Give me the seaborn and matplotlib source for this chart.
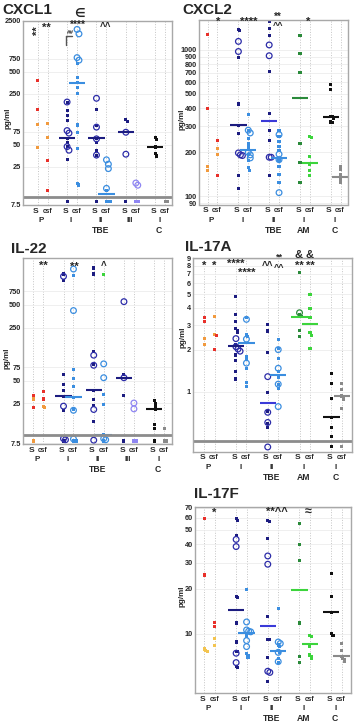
import numpy as np
import pandas as pd
import matplotlib
matplotlib.use("Agg")
import matplotlib.pyplot as plt
from matplotlib.lines import Line2D
from matplotlib.ticker import NullLocator
import seaborn as sns

sns.set_style("white")
plt.rcParams["font.family"] = ["Liberation Sans", "DejaVu Sans"]
plt.rcParams["font.weight"] = "bold"

W, H = 358, 722

PALETTE = {"red": "#e8302a", "orange": "#f19a3e", "yellow": "#f3c44f",
           "navy": "#1c1c80", "navyc": "#2c2ca8", "royal": "#3a3ad8",
           "blue": "#3b8ee0", "lav": "#8f86f2", "dkgreen": "#2a8a3a",
           "green": "#3cd43c", "black": "#111111", "grey": "#8a8a8a"}

A_GROUPS = ["P", "I", "II", "III", "C"]
B_GROUPS = ["P", "I", "II", "AM", "C"]
A_ROW2 = ["P", "I", "II", "III", "I"]
B_ROW2 = ["P", "I", "II", "I", "I"]

# ---------------- CXCL1 (pg/ml) ----------------
CXCL1_DOTS = [
    ("P S", "red", [383, 152]), ("P S", "orange", [95, 46]),
    ("P csf", "orange", [98, 62]), ("P csf", "red", [30, 11.7]),
    ("I S", "navy", [189, 146, 125, 107, 60, 54, 46.6, 31, 8.3]),
    ("I csf", "blue", [656, 420, 359, 301, 250, 93, 73, 44, 14.7, 14]),
    ("II S", "navy", [150, 91, 60, 54, 42, 36, 8.3]),
    ("II csf", "blue", [11.7, 8.3, 8.3, 8.3, 8.3]),
    ("III S", "navy", [112, 103, 8.3]),
    ("III csf", "lav", [8.3, 8.3, 8.3]),
    ("C S", "black", [62, 59, 46.5, 38, 35]),
    ("C csf", "grey", [8.3, 8.3, 8.3]),
]
CXCL1_CIRCLES = [
    ("I S", "navyc", [192, 78, 72, 47, 42]),
    ("I csf", "blue", [1900, 1650, 780, 720]),
    ("II S", "navyc", [216, 87, 60, 36]),
    ("II csf", "blue", [31, 27, 23.5, 12.6]),
    ("III S", "navyc", [74, 37]),
    ("III csf", "lav", [14.9, 13.9]),
]
CXCL1_MEDIANS = [("I S", "navy", 62), ("I csf", "blue", 352), ("II S", "navy", 62),
                 ("II csf", "blue", 10.5), ("III S", "navy", 74), ("C S", "black", 46.5)]

# ---------------- CXCL2 ----------------
CXCL2_DOTS = [
    ("P S", "red", [1280, 396]), ("P S", "orange", [160, 151]),
    ("P csf", "red", [239, 138]), ("P csf", "orange", [213, 192]),
    ("I S", "navy", [1376, 1360, 893, 427, 305, 269, 138, 113]),
    ("I csf", "blue", [362, 283, 249, 230, 219, 208, 192, 176, 157, 150]),
    ("II S", "navy", [1574, 1397, 1259, 716, 366, 280, 242, 138]),
    ("II csf", "blue", [283, 255, 236, 219, 206, 176, 161, 141, 124]),
    ("AM S", "dkgreen", [1250, 950, 700, 228, 170, 124]),
    ("AM csf", "green", [255, 251, 187, 165, 150, 138]),
    ("C S", "black", [582, 533, 353, 350, 343, 322, 318]),
    ("C csf", "grey", [160, 152, 141, 130, 124]),
]
CXCL2_CIRCLES = [
    ("I S", "navyc", [1143, 975, 198, 192, 190]),
    ("I csf", "blue", [283, 271, 200, 192, 183]),
    ("II S", "navyc", [1081, 912, 185, 185]),
    ("II csf", "blue", [264, 194, 178, 106]),
]
CXCL2_MEDIANS = [("I S", "navy", 309), ("I csf", "blue", 208), ("II S", "royal", 325),
                 ("II csf", "blue", 183), ("AM S", "dkgreen", 467), ("AM csf", "green", 170),
                 ("C S", "black", 348), ("C csf", "grey", 135)]

# ---------------- IL-22 ----------------
IL22_DOTS = [
    ("P S", "red", [31.7, 21.9]), ("P S", "orange", [28.6, 8.0]),
    ("P csf", "red", [36.3, 28.6]), ("P csf", "orange", [22.7, 22]),
    ("I S", "navy", [1268, 1055, 60, 44, 37, 31, 20, 8.0, 8.0]),
    ("I csf", "blue", [1210, 70, 53, 42, 29.6, 20.8, 8.0, 8.0, 8.0]),
    ("II S", "navy", [1520, 1266, 122, 82, 37, 28, 23.7, 14.6]),
    ("II csf", "green", [1240]), ("II csf", "blue", [32.6, 24.3, 9.8, 8.0]),
    ("III S", "navy", [60, 31.7, 8.0]),
    ("III csf", "lav", [8.0, 8.0, 8.0]),
    ("C S", "black", [27, 25, 23, 22, 21, 13.2, 11.6, 8.0]),
    ("C csf", "grey", [11.6, 8.0, 8.0, 8.0]),
]
IL22_CIRCLES = [
    ("I S", "navyc", [1181, 23, 8.6, 8.3]),
    ("I csf", "blue", [1474, 418, 20.3, 8.5]),
    ("II S", "navyc", [108, 79.5, 20.8, 8.2]),
    ("II csf", "blue", [83, 54.5, 8.6, 8.3]),
    ("III S", "navyc", [548, 54.5]),
    ("III csf", "lav", [25.3, 21.2]),
]
IL22_MEDIANS = [("I S", "navy", 31), ("I csf", "blue", 30.3), ("II S", "navy", 37),
                ("II csf", "blue", 9.6), ("III S", "navy", 54.5), ("C S", "black", 21.4)]

# ---------------- IL-17A ----------------
IL17A_DOTS = [
    ("P S", "red", [3.4, 3.2]), ("P S", "orange", [2.4, 2.18]),
    ("P csf", "orange", [3.48, 2.57]), ("P csf", "red", [2.52, 1.99]),
    ("I S", "navy", [4.78, 3.6, 3.17, 2.84, 2.76, 2.64, 2.16, 1.83, 1.67, 1.39, 1.23]),
    ("I csf", "blue", [3.4, 2.55, 2.5, 1.78, 1.69, 1.47, 1.16, 1.08]),
    ("II S", "navy", [3.05, 2.72, 1.91, 0.98, 0.72, 0.59, 0.55]),
    ("II csf", "blue", [2.38, 2.04, 1.73, 1.39, 1.26, 1.12, 1.05]),
    ("AM S", "dkgreen", [7.16, 3.6, 3.44, 2.73, 2.48]),
    ("AM csf", "green", [5.0, 3.95, 3.4, 2.64, 2.54, 2.04]),
    ("C S", "black", [1.34, 1.15, 0.896, 0.655, 0.553, 0.476, 0.405]),
    ("C csf", "grey", [1.15, 1.04, 0.93, 0.91, 0.88, 0.76, 0.405]),
]
IL17A_CIRCLES = [
    ("I S", "navyc", [2.4, 2.1, 2.02, 1.95]),
    ("I csf", "blue", [3.3, 2.38, 1.6]),
    ("II S", "navyc", [1.28, 0.71, 0.6, 0.40]),
    ("II csf", "blue", [2.0, 1.47, 1.13, 0.78]),
    ("AM S", "dkgreen", [3.68]),
]
IL17A_MEDIANS = [("I S", "navy", 2.12), ("I csf", "blue", 2.22), ("II S", "royal", 0.83),
                 ("II csf", "blue", 1.32), ("AM S", "green", 3.44), ("AM csf", "green", 3.08),
                 ("C S", "black", 0.655), ("C csf", "grey", 0.93)]

# ---------------- IL-17F ----------------
IL17F_DOTS = [
    ("P S", "red", [59.5, 24.8]), ("P S", "yellow", [7.9, 7.7, 7.6]),
    ("P csf", "red", [11.9, 11.2]), ("P csf", "yellow", [9.35, 8.35]),
    ("I S", "navy", [59.5, 58, 46, 17.8, 17.6, 11.8, 8.8, 7.6, 7.6, 6.05, 5.9]),
    ("I csf", "blue", [19.7, 10.1, 9.6, 7.4, 7.1, 6.9]),
    ("II S", "navy", [58, 57, 43.7, 13.0, 9.2, 9.2, 6.9, 4.75]),
    ("II csf", "blue", [14.8, 8.4, 8.2, 7.7, 7.5, 6.8, 6.4]),
    ("AM S", "dkgreen", [55, 40, 31, 11.8, 7.0, 6.4]),
    ("AM csf", "green", [9.75, 9.6, 8.2, 7.2, 7.0, 6.8]),
    ("C S", "black", [25.5, 17.9, 13.9, 10.1, 9.8, 9.7]),
    ("C csf", "grey", [8.6, 7.7, 7.0, 6.8, 6.7, 6.5]),
]
IL17F_CIRCLES = [
    ("I S", "navyc", [43, 38.5, 7.4, 6.4]),
    ("I csf", "blue", [12, 10.6, 10.4, 10.3, 9.0, 8.2]),
    ("II S", "navyc", [33.3, 29.3, 5.6, 5.5]),
    ("II csf", "blue", [8.8, 8.6, 7.5, 6.5]),
]
IL17F_MEDIANS = [("I S", "navy", 14.5), ("I csf", "blue", 10.1), ("II S", "royal", 11.2),
                 ("II csf", "blue", 7.6), ("AM S", "green", 19.7), ("AM csf", "green", 8.57),
                 ("C S", "black", 13.9), ("C csf", "grey", 7.05)]


def rect(l, t, r, b):
    return [l / W, 1 - b / H, (r - l) / W, (b - t) / H]


def ftxt(x, y, s, size=8, **kw):
    fig.text(x / W, 1 - y / H, s, ha="center", va="center", fontsize=size,
             fontweight="bold", **kw)


def to_frame(series, xpos, ppd, gap, step):
    # nudge points sideways when they would land on top of each other
    rows, placed = [], {}
    for col, color, vals in series:
        prev = placed.setdefault(col, [])
        for v in vals:
            lv = np.log10(v)
            n = sum(abs(lv - p) * ppd < gap for p in prev)
            prev.append(lv)
            rows.append({"x": xpos[col] + n * step, "v": v, "c": color})
    return pd.DataFrame(rows)


def panel(box, groups, row2, row3, xlim, off, dots, circles, meds,
          ylim, yticks, ylabels, ppd, brk=None):
    ax = fig.add_axes(box)
    ax.set_yscale("log")
    xpos = {}
    for i, g in enumerate(groups):
        xpos[g + " S"] = i
        xpos[g + " csf"] = i + off

    sns.scatterplot(data=to_frame(dots, xpos, ppd, 3, 0.045), x="x", y="v", hue="c",
                    palette=PALETTE, marker="s", s=5, linewidth=0, legend=False, ax=ax)
    cdf = to_frame(circles, xpos, ppd, 5, 0.065)
    sns.scatterplot(data=cdf, x="x", y="v", hue="c", palette=PALETTE, marker="o",
                    s=17, linewidth=0.9, legend=False, ax=ax)
    pts = ax.collections[-1]
    pts.set_edgecolors(pts.get_facecolors())
    pts.set_facecolors("none")
    mdf = pd.DataFrame({"x": [xpos[m[0]] for m in meds], "v": [m[2] for m in meds],
                        "c": [m[1] for m in meds]})
    sns.scatterplot(data=mdf, x="x", y="v", hue="c", palette=PALETTE, marker="_",
                    s=140, linewidth=1.5, legend=False, ax=ax)
    mk = ax.collections[-1]
    mk.set_edgecolors(mk.get_facecolors())

    if brk is not None:
        ax.axhline(brk, color="#8c8c8c", lw=2, zorder=1)

    ax.set_xlim(*xlim)
    ax.set_ylim(*ylim)
    ax.set_xticks(sorted(xpos.values()))
    ax.set_xticklabels([])
    ax.set_yticks(yticks)
    ax.set_yticklabels(ylabels)
    ax.yaxis.set_minor_locator(NullLocator())
    ax.tick_params(axis="both", length=0, pad=1.5, labelsize=5.3)
    ax.grid(axis="x", ls=":", color="#c4c4c4", lw=0.7)
    ax.grid(axis="y", ls="-", color="#ececec", lw=0.6)
    ax.set_axisbelow(True)
    for sp in ax.spines.values():
        sp.set_color("#a8a8a8")
        sp.set_linewidth(1)
    ax.set_xlabel("")
    ax.set_ylabel("")

    for i, g in enumerate(groups):
        kw = dict(xycoords=("data", "axes fraction"), textcoords="offset points",
                  ha="center", va="center", fontweight="bold")
        ax.annotate("S", (i - 0.06, 0), xytext=(0, -4.5), fontsize=6, **kw)
        ax.annotate("csf", (i + off - 0.02, 0), xytext=(0, -4.5), fontsize=4.8, **kw)
        ax.annotate(row2[i], (i + 0.13, 0), xytext=(0, -11.5), fontsize=5.8, **kw)
        if row3[i]:
            ax.annotate(row3[i], (i + 0.13, 0), xytext=(0, -18.5), fontsize=6.2, **kw)
    return ax


fig = plt.figure(figsize=(W / 100, H / 100), dpi=100)

panel(rect(22.7, 20.7, 172, 205), A_GROUPS, A_ROW2, ["", "", "TBE", "", "C"],
      (-0.51, 4.57), 0.34, CXCL1_DOTS, CXCL1_CIRCLES, CXCL1_MEDIANS,
      (7.45, 2500), [7.5, 25, 50, 75, 250, 500, 750, 2500],
      ["7.5", "25", "50", "75", "250", "500", "750", "2500"], 74, brk=9.6)

panel(rect(199, 20, 348, 204.5), B_GROUPS, B_ROW2, ["", "", "TBE", "AM", "C"],
      (-0.28, 4.56), 0.32, CXCL2_DOTS, CXCL2_CIRCLES, CXCL2_MEDIANS,
      (88, 1600), [90, 100, 200, 300, 400, 500, 600, 700, 800, 900, 1000],
      ["90", "100", "200", "300", "400", "500", "600", "700", "800", "900", "1000"], 149)

panel(rect(22.7, 258, 172, 444), A_GROUPS, A_ROW2, ["", "", "TBE", "", "C"],
      (-0.35, 4.59), 0.33, IL22_DOTS, IL22_CIRCLES, IL22_MEDIANS,
      (7.3, 2060), [7.5, 25, 50, 75, 250, 500, 750],
      ["7.5", "25", "50", "75", "250", "500", "750"], 76, brk=9.6)

panel(rect(193, 258, 352, 451.7), B_GROUPS, B_ROW2, ["", "", "TBE", "AM", "C"],
      (-0.35, 4.65), 0.33, IL17A_DOTS, IL17A_CIRCLES, IL17A_MEDIANS,
      (0.37, 9.1), [1, 2, 3, 4, 5, 6, 7, 8, 9],
      ["1", "2", "3", "4", "5", "6", "7", "8", "9"], 140, brk=0.44)

panel(rect(195, 507, 351, 693), B_GROUPS, B_ROW2, ["", "", "TBE", "AM", "C"],
      (-0.30, 4.63), 0.33, IL17F_DOTS, IL17F_CIRCLES, IL17F_MEDIANS,
      (4.0, 71), [10, 20, 30, 40, 50, 60, 70],
      ["10", "20", "30", "40", "50", "60", "70"], 149)

# titles
for x, y, t in [(27, 10, "CXCL1"), (207, 10, "CXCL2"), (29, 249, "IL-22"),
                (208, 247, "IL-17A"), (216, 494, "IL-17F")]:
    ftxt(x, y, t, size=11)

# y labels
for x, y in [(8, 118), (182, 119), (7, 358), (183, 337), (182, 596)]:
    ftxt(x, y, "pg/ml", size=5.8, rotation=90)

# significance marks
marks = [
    (37.7, 31, "**", 8, 90), (46.7, 28.3, "**", 8, 0), (77.3, 25, "****", 7.5, 0),
    (79.3, 13.5, "∈", 8.5, 0), (70.5, 33, "##", 4.5, 0), (106, 27, "^^", 7, 0),
    (217.7, 21.5, "*", 8, 0), (248.3, 21.5, "****", 8, 0), (277.7, 16.5, "**", 7, 0),
    (277.7, 25, "^^", 6.5, 0), (307.7, 21.5, "*", 8, 0),
    (43.3, 266, "**", 8, 0), (74, 267, "**", 8, 0), (104, 266, "^", 7, 0),
    (204.3, 266, "*", 8, 0), (214.3, 266, "*", 8, 0), (236, 264, "****", 8, 0),
    (246.7, 272.5, "****", 8, 0), (267.3, 266, "^^", 7, 0), (279, 257.5, "**", 6.5, 0),
    (279, 267, "^^", 6.5, 0), (298.3, 255, "&", 8, 0), (310, 255, "&", 8, 0),
    (299, 266, "**", 8, 0), (310, 266, "**", 8, 0),
    (214.3, 512.5, "*", 8, 0), (276.7, 512.5, "**^^", 8, 0), (308.3, 512, "≈", 9, 0),
]
for x, y, s, sz, rot in marks:
    ftxt(x, y, s, size=sz, rotation=rot)

fig.add_artist(Line2D([65.7 / W, 65.7 / W], [1 - 36 / H, 1 - 45 / H], color="#555555", lw=1))
fig.add_artist(Line2D([65.7 / W, 72 / W], [1 - 36 / H, 1 - 36 / H], color="#555555", lw=1))

fig.savefig("out.png", dpi=100)
